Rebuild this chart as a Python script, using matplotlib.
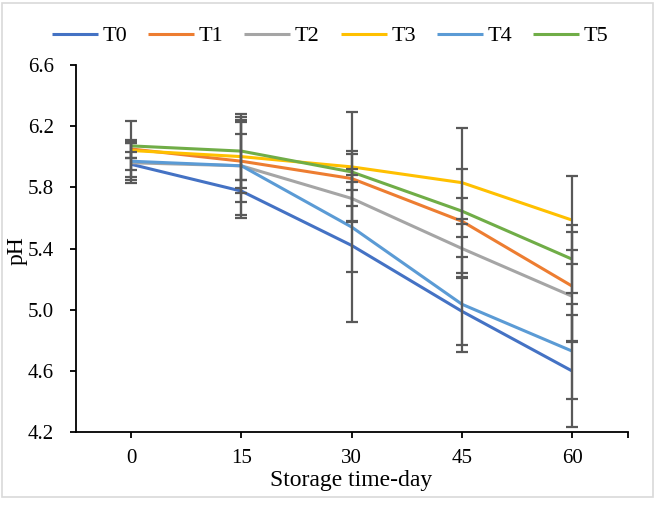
import matplotlib
matplotlib.use("Agg")
import matplotlib.pyplot as plt
from matplotlib.patches import Rectangle

days = ["0", "15", "30", "45", "60"]
series = ["T0", "T1", "T2", "T3", "T4", "T5"]
colors = ["#4472C4", "#ED7D31", "#A5A5A5", "#FFC000", "#5B9BD5", "#70AD47"]

t0 = [5.95, 5.775, 5.42, 4.99, 4.60]
t1 = [6.05, 5.97, 5.857, 5.578, 5.154]
t2 = [5.96, 5.94, 5.727, 5.40, 5.088]
t3 = [6.04, 6.00, 5.933, 5.83, 5.585]
t4 = [5.97, 5.94, 5.54, 5.036, 4.73]
t5 = [6.07, 6.036, 5.90, 5.644, 5.33]

e0 = [0.08, 0.07, 0.50, 0.222, 0.366]
e1 = [0.06, 0.175, 0.18, 0.34, 0.355]
e2 = [0.13, 0.34, 0.15, 0.19, 0.30]
e3 = [0.05, 0.24, 0.357, 0.354, 0.288]
e4 = [0.125, 0.32, 0.293, 0.31, 0.31]
e5 = [0.16, 0.19, 0.12, 0.087, 0.222]

means = [t0, t1, t2, t3, t4, t5]
errs = [e0, e1, e2, e3, e4, e5]

SERIF = "Liberation Serif"

fig = plt.figure(figsize=(6.64, 5.09), dpi=100, facecolor="white")
ax = fig.add_axes([76 / 664, (509 - 432.4) / 509, 551.5 / 664, 367.7 / 509])

x = list(range(len(days)))
handles = []
for name, c, m in zip(series, colors, means):
    h, = ax.plot(x, m, color=c, lw=2.2, label=name, zorder=2,
                 solid_capstyle="butt")
    handles.append(h)
for m, e in zip(means, errs):
    ax.errorbar(x, m, yerr=e, fmt="none", ecolor="#595959", elinewidth=1.6,
                capsize=4, capthick=1.6, zorder=3)

ax.set_xlim(-0.5, 4.5)
ax.set_ylim(4.2, 6.6)
ax.set_xticks(x)
ax.set_xticklabels(days)
ax.set_xticks([4.5], minor=True)
ax.set_yticks([4.2, 4.6, 5.0, 5.4, 5.8, 6.2, 6.6])
ax.set_yticklabels(["4.2", "4.6", "5.0", "5.4", "5.8", "6.2", "6.6"])
for s in ("top", "right"):
    ax.spines[s].set_visible(False)
for s in ("left", "bottom"):
    ax.spines[s].set_linewidth(1.3)
    ax.spines[s].set_color("black")
ax.tick_params(which="both", direction="out", length=4, width=1.3,
               labelsize=15)
ax.tick_params(axis="x", pad=8)
ax.tick_params(axis="y", pad=12)
for lab in ax.get_xticklabels() + ax.get_yticklabels():
    lab.set_family(SERIF)

ax.set_xlabel("Storage time-day", fontsize=17, family=SERIF, va="center")
ax.xaxis.set_label_coords(0.498, -0.132)
ax.set_ylabel("pH", fontsize=17, family=SERIF, va="center")
ax.yaxis.set_label_coords(-0.106, 0.493)

fig.legend(handles=handles, loc="center", ncol=6,
           bbox_to_anchor=(0.497, 0.929), frameon=False, handlelength=2.07,
           columnspacing=0.95, handletextpad=0.2, borderpad=0,
           prop={"family": SERIF, "size": 16})

fig.patches.append(Rectangle((2 / 664, 12 / 509), 651 / 664, 494 / 509,
                             transform=fig.transFigure, fill=False,
                             edgecolor="#d9d9d9", lw=1.2))

fig.savefig("out.png", dpi=100, facecolor="white")
